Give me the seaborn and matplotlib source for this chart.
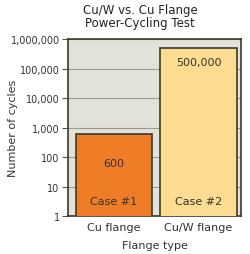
import matplotlib
matplotlib.use("Agg")
import matplotlib.pyplot as plt
import seaborn as sns
import pandas as pd
from matplotlib.ticker import FixedLocator, FixedFormatter, NullLocator

categories = ["Cu flange", "Cu/W flange"]
cycles = [600, 500000]
value_labels = ["600", "500,000"]
case_labels = ["Case #1", "Case #2"]
ytick_values = [1, 10, 100, 1000, 10000, 100000, 1000000]
ytick_labels = ["1", "10", "100", "1,000", "10,000", "100,000", "1,000,000"]

sns.set_theme(style="white")
plt.rcParams['font.family'] = ['DejaVu Sans']

df = pd.DataFrame({"Flange type": categories, "cycles": cycles})

fig = plt.figure(figsize=(2.5, 2.55), dpi=100)
ax = fig.add_axes([0.272, 0.149, 0.692, 0.694])
ax.set_facecolor("#e2e2da")

sns.barplot(data=df, x="Flange type", y="cycles", hue="Flange type",
            palette=["#ef7d27", "#fcdc90"], saturation=1, width=0.9, ax=ax,
            edgecolor="#3a3a2a", linewidth=1.2, legend=False, zorder=3)
ax.set_yscale("log")
ax.set_ylim(1, 1e6)
ax.set_xlim(-0.54, 1.5)
ax.yaxis.set_major_locator(FixedLocator(ytick_values))
ax.yaxis.set_major_formatter(FixedFormatter(ytick_labels))
ax.yaxis.set_minor_locator(NullLocator())
ax.grid(axis="y", color="#9a9a90", linewidth=0.8, zorder=0)
ax.set_axisbelow(True)

for s in ax.spines.values():
    s.set_color("#3a3a2a")
    s.set_linewidth(1.2)

ax.tick_params(axis="y", which="major", length=4, width=0.8, color="#555555",
               labelsize=7, pad=2, labelcolor="#333333", left=True)
ax.tick_params(axis="x", length=0, labelsize=8, pad=4, labelcolor="#333333")

ax.set_ylabel("Number of cycles", fontsize=8, color="#333333")
ax.yaxis.set_label_coords(-0.29, 0.5)
ax.set_xlabel("Flange type", fontsize=8, color="#333333", labelpad=6)

label_factors = [9.5, 3.0]
for i, (v, vl, cl) in enumerate(zip(cycles, value_labels, case_labels)):
    ax.text(i, v / label_factors[i], vl, ha="center", va="center", fontsize=8,
            color="#333333", zorder=4)
    ax.text(i, 3.3, cl, ha="center", va="center", fontsize=8, color="#333333", zorder=4)

fig.text(0.56, 0.985, "Cu/W vs. Cu Flange\nPower-Cycling Test", ha="center", va="top",
         fontsize=8.5, color="#222222", linespacing=1.0)

fig.savefig("out.png", dpi=100)
